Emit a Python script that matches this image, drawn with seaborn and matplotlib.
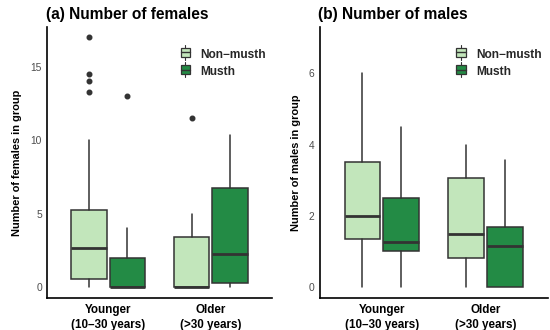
import numpy as np
import matplotlib
matplotlib.use("Agg")
import matplotlib.pyplot as plt
import seaborn as sns
from matplotlib.patches import Rectangle, Patch
from matplotlib.lines import Line2D
from matplotlib.legend_handler import HandlerPatch

# categories and groups
age_groups = ["Younger\n(10\u201330 years)", "Older\n(>30 years)"]
states = ["Non\u2212musth", "Musth"]

# box summaries: whislo, q1, median, q3, whishi
fem_young_nm = [0, 0.54, 2.65, 5.24, 10.0]
fem_young_m = [0, 0, 0, 2.0, 4.0]
fem_old_nm = [0, 0, 0, 3.4, 5.0]
fem_old_m = [0, 0.32, 2.25, 6.76, 10.37]
fem_fliers = [[13.3, 14.0, 14.5, 17.0], [13.0], [11.5], []]

male_young_nm = [0, 1.34, 2.0, 3.5, 6.0]
male_young_m = [0, 1.0, 1.26, 2.5, 4.5]
male_old_nm = [0, 0.8, 1.5, 3.06, 4.0]
male_old_m = [0, 0, 1.15, 1.69, 3.57]
male_fliers = [[], [], [], []]

light = "#c2e6bb"
dark = "#238b45"
edge = "#333333"

sns.set_style("white")
plt.rcParams["font.family"] = ["Liberation Sans", "DejaVu Sans"]


def make_stats(rows, fliers):
    out = []
    for r, f in zip(rows, fliers):
        out.append(dict(whislo=r[0], q1=r[1], med=r[2], q3=r[3], whishi=r[4], fliers=f))
    return out


class BoxKey(HandlerPatch):
    def create_artists(self, legend, orig, xd, yd, w, h, fs, trans):
        cx = xd + w / 2
        rect = Rectangle((xd, yd), w, h, fc=orig.get_facecolor(), ec=edge, lw=0.9, transform=trans)
        med = Line2D([xd, xd + w], [yd + h / 2] * 2, color=edge, lw=1.0, transform=trans)
        lo = Line2D([cx, cx], [yd - h * 0.3, yd], color=edge, lw=0.8, transform=trans)
        hi = Line2D([cx, cx], [yd + h, yd + h * 1.3], color=edge, lw=0.8, transform=trans)
        return [lo, hi, rect, med]


def draw(ax, rows, fliers, title, ylabel, yticks, ylim):
    stats = make_stats(rows, fliers)
    pos = [1 - 0.187, 1 + 0.187, 2 - 0.187, 2 + 0.187]
    bp = ax.bxp(stats, positions=pos, widths=0.345, patch_artist=True, showcaps=False,
                boxprops=dict(edgecolor=edge, linewidth=1.1),
                whiskerprops=dict(color=edge, linewidth=1.1),
                medianprops=dict(color=edge, linewidth=2.0),
                flierprops=dict(marker="o", markerfacecolor=edge, markeredgecolor=edge,
                                markersize=3.3))
    for box, c in zip(bp["boxes"], [light, dark, light, dark]):
        box.set_facecolor(c)
    ax.set_xlim(0.4, 2.6)
    ax.set_ylim(*ylim)
    ax.set_xticks([1, 2])
    ax.set_xticklabels(age_groups, fontsize=8.4, fontweight="bold", linespacing=1.3)
    ax.set_yticks(yticks)
    ax.tick_params(axis="y", labelsize=7.4, length=2, width=0.8, colors="#333333", pad=1.5)
    ax.tick_params(axis="x", length=2, width=0.8, colors="#333333", pad=2)
    for lab in ax.get_xticklabels():
        lab.set_color("black")
    for lab in ax.get_yticklabels():
        lab.set_color("#4d4d4d")
    ax.set_ylabel(ylabel, fontsize=7.9, fontweight="bold", labelpad=6, color="black")
    ax.set_title(title, fontsize=11.2, fontweight="bold", loc="left", pad=6, x=-0.005,
                 color="black")
    sns.despine(ax=ax)
    for s in ["left", "bottom"]:
        ax.spines[s].set_linewidth(1.2)
        ax.spines[s].set_color("black")
    handles = [Patch(facecolor=light, label=states[0]), Patch(facecolor=dark, label=states[1])]
    ax.legend(handles=handles, handler_map={Patch: BoxKey()}, loc="upper right",
              bbox_to_anchor=(1.02, 0.96), frameon=False, prop=dict(size=8.6, weight="bold"),
              handlelength=0.8, handleheight=0.85, handletextpad=0.85, labelspacing=0.45)


fig = plt.figure(figsize=(5.5, 3.3), dpi=100)
ax1 = fig.add_axes([0.085, 0.096, 0.41, 0.822])
ax2 = fig.add_axes([0.581, 0.096, 0.415, 0.822])

draw(ax1, [fem_young_nm, fem_young_m, fem_old_nm, fem_old_m], fem_fliers,
     "(a) Number of females", "Number of females in group", [0, 5, 10, 15], (-0.75, 17.7))
draw(ax2, [male_young_nm, male_young_m, male_old_nm, male_old_m], male_fliers,
     "(b) Number of males", "Number of males in group", [0, 2, 4, 6], (-0.32, 7.3))

fig.savefig("out.png", dpi=100)
